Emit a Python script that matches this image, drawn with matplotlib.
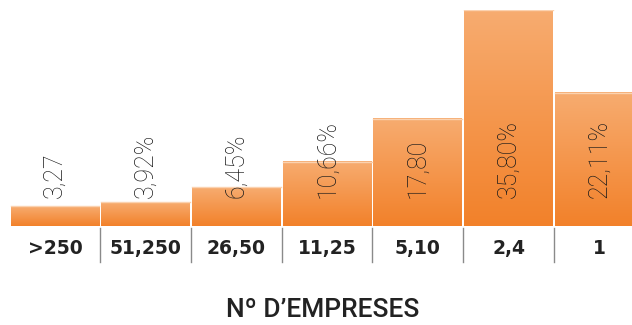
import matplotlib
matplotlib.use("Agg")
import matplotlib.pyplot as plt
import numpy as np
from matplotlib.colors import LinearSegmentedColormap

categories = [">250", "51,250", "26,50", "11,25", "5,10", "2,4", "1"]
values = [3.27, 3.92, 6.45, 10.66, 17.80, 35.80, 22.11]
value_labels = ["3,27", "3,92%", "6,45%", "10,66%", "17,80", "35,80%", "22,11%"]
title = "Nº D\u2019EMPRESES"

orange = LinearSegmentedColormap.from_list("orange", ["#f2812a", "#f7ac70"])
grad = np.linspace(0, 1, 256).reshape(-1, 1)

fig = plt.figure(figsize=(6.32, 3.25), dpi=100)
ax = fig.add_axes([0, 0.3046, 1, 0.6646])

width = 0.98
x = np.arange(len(values))
for xi, v, lab in zip(x, values, value_labels):
    # vertical gradient per bar, light at the top
    ax.imshow(grad, extent=[xi - width / 2, xi + width / 2, 0, v], origin="lower",
              aspect="auto", cmap=orange, zorder=1)
    ax.plot([xi - width / 2, xi + width / 2], [v, v], color="#fbd2b0", lw=1, zorder=2)
    ax.text(xi, 0.13, lab, transform=ax.get_xaxis_transform(),
            rotation=90, ha="center", va="bottom", fontsize=18, color="#1a1a1a",
            family="Roboto", fontweight="light", zorder=3)

ax.set_xlim(-0.606, 6.361)
ax.set_ylim(0, 35.8)
ax.axis("off")

tr = ax.get_xaxis_transform()
for xs in x[:-1] + 0.5:
    ax.plot([xs, xs], [-0.009, -0.167], transform=tr, color="#8a8a8a", lw=1, clip_on=False)
for xi, c in zip(x, categories):
    ax.text(xi, -0.102, c, transform=tr, ha="center", va="center", fontsize=13.5,
            fontweight="bold", color="#222222", family="DejaVu Sans")

fig.text(0.511, 0.046, title, ha="center", va="center", fontsize=19, color="#222222",
         family="Roboto", fontweight="medium")

fig.savefig("out.png", dpi=100)
